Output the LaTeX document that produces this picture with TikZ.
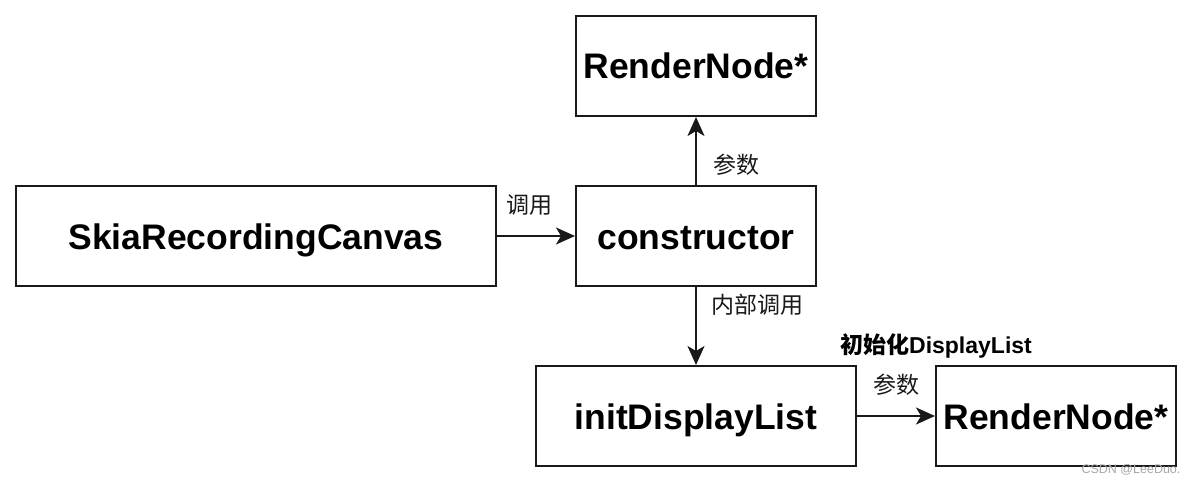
\documentclass[tikz,border=0pt]{standalone}
\usepackage{fontspec}
\setmainfont{Liberation Sans}
\newfontfamily\cjk{Noto Sans CJK SC}
\usetikzlibrary{arrows.meta}
\begin{document}
\begin{tikzpicture}[x=1pt,y=-1pt,
  box/.style={draw=black!90,line width=2pt,inner sep=0pt,minimum height=100pt,
    text height=26pt,text depth=0pt,
    font=\fontsize{35.5}{40}\selectfont\bfseries},
  conn/.style={draw=black!90,line width=2pt,-{Stealth[length=19pt,width=17pt,inset=5pt]}},
  lbl/.style={font=\fontsize{23}{26}\selectfont\cjk,inner sep=0pt,text=black!90}
]
\useasboundingbox (0,0) rectangle (1194,484);
\node[box,minimum width=240pt] (rn1) at (696,66) {RenderNode*};
\node[box,minimum width=480pt] (skia) at (256,236) {SkiaRecordingCanvas};
\node[box,minimum width=240pt] (ctor) at (696,236) {constructor};
\node[box,minimum width=320pt] (init) at (696,416) {initDisplayList};
\node[box,minimum width=240pt] (rn2) at (1056,416) {RenderNode*};
\draw[conn] (skia) -- (ctor);
\draw[conn] (ctor) -- (rn1);
\draw[conn] (ctor) -- (init);
\draw[conn] (init) -- (rn2);
\node[lbl] (l1) at (529,205) {调用};
\node[lbl] (l2) at (736,165) {参数};
\node[lbl] (l3) at (757,305) {内部调用};
\node[lbl] (l4) at (896,385) {参数};
\node[inner sep=0pt,font=\fontsize{23}{26}\selectfont\bfseries] (l5) at (936,346) {{\cjk 初始化}DisplayList};
\node[inner sep=0pt,font=\fontsize{12.5}{14}\selectfont,text=black!35] (wm) at (1131,470) {CSDN @LeeDuo.};
\end{tikzpicture}
\end{document}
